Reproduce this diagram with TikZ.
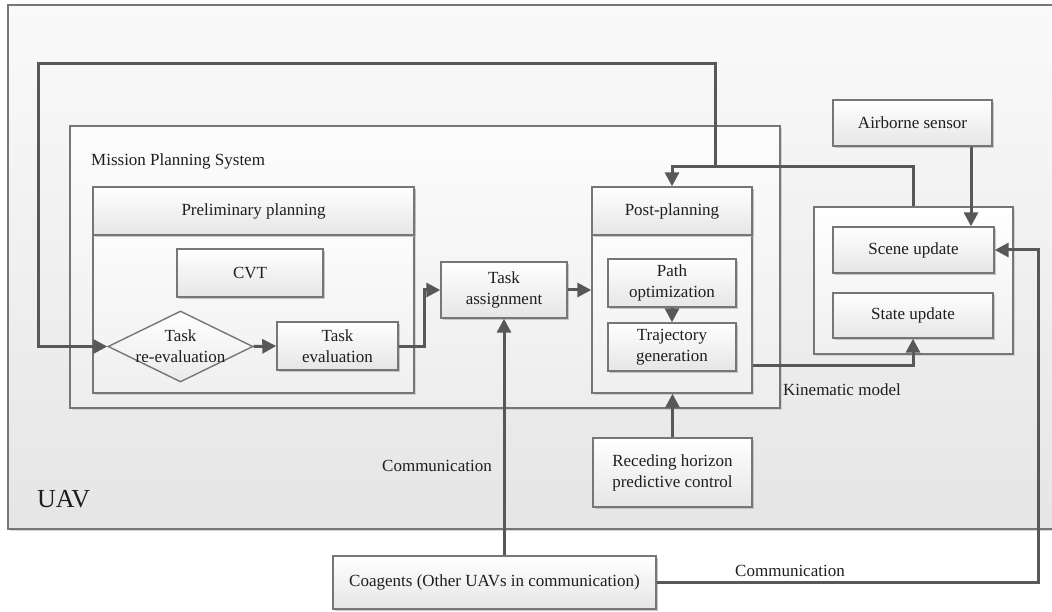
\documentclass[tikz,border=0pt]{standalone}
\usepackage{fontspec}
\setmainfont{Liberation Serif}
\usetikzlibrary{arrows.meta,shapes.geometric,shadows,calc}
\definecolor{linec}{HTML}{585858}
\definecolor{borderc}{HTML}{767676}
\definecolor{textc}{HTML}{1E1E1E}
\begin{document}
\begin{tikzpicture}[x=1pt,y=-1pt,
  every node/.style={font=\fontsize{17}{21}\selectfont, text=textc},
  place/.style n args={4}{minimum width={(#3-#1)*1pt}, minimum height={(#4-#2)*1pt},
    at={({(#1+#3)/2},{(#2+#4)/2})}},
  box/.style={draw=borderc, line width=1.4pt, rectangle, inner sep=0pt, align=center,
    top color=white, bottom color=black!10,
    drop shadow={shadow xshift=1.6pt, shadow yshift=-1.6pt, fill=black!30, opacity=0.7}},
  container/.style={draw=borderc, line width=1.4pt, rectangle, inner sep=0pt,
    top color=white, bottom color=black!6,
    drop shadow={shadow xshift=1.6pt, shadow yshift=-1.6pt, fill=black!25, opacity=0.6}},
  arr/.style={draw=linec, line width=3pt, -{Triangle[length=14pt,width=14pt]}},
  lbl/.style={anchor=base west, inner sep=0pt}
]
\clip (0,0) rectangle (1052,612);
\fill[white] (0,0) rectangle (1052,612);

% UAV frame
\node[container, line width=1.8pt, top color=black!2, bottom color=black!10, place={8}{5}{1080}{529}] (uav) {};
\node[anchor=west, inner sep=0pt, font=\fontsize{26}{30}\selectfont] (uavlabel) at (37,499) {UAV};

% Mission planning system
\node[container, top color=black!1, bottom color=black!7, place={70}{126}{780}{408}] (mps) {};
\node[lbl] (mpslabel) at (91,166) {Mission Planning System};

% Preliminary planning
\node[container, place={93}{187}{414}{393}] (prelim) {};
\node[box, place={93}{187}{414}{235}] (prelimhead) {Preliminary planning};
\node[box, place={177}{249}{323}{297}] (cvt) {CVT};
\node[diamond, draw=borderc, line width=1.4pt, inner sep=0pt, minimum width=145pt, minimum height=71pt,
  top color=white, bottom color=black!8] (reeval) at (180.5,346.5) {};
\node[align=center, inner sep=0pt] (reevaltext) at (reeval.center) {Task\\re-evaluation};
\node[box, place={277}{322}{398}{370}] (taskeval) {Task\\evaluation};

% Task assignment
\node[box, place={441}{262}{567}{318}] (taskassign) {Task\\assignment};

% Post planning
\node[container, place={592}{187}{752}{393}] (post) {};
\node[box, place={592}{187}{752}{235}] (posthead) {Post-planning};
\node[box, place={608}{259}{736}{307}] (pathopt) {Path\\optimization};
\node[box, place={608}{323}{736}{371}] (trajgen) {Trajectory\\generation};

% Right side
\node[box, place={833}{100}{992}{146}] (airborne) {Airborne sensor};
\node[container, place={814}{207}{1013}{354}] (kin) {};
\node[box, place={833}{227}{994}{273}] (scene) {Scene update};
\node[box, place={833}{293}{993}{338}] (state) {State update};
\node[lbl] (kinlabel) at (783,395) {Kinematic model};

% Bottom
\node[box, place={593}{438}{752}{507}] (receding) {Receding horizon\\predictive control};
\node[box, place={333}{556}{656}{609}] (coagents) {Coagents (Other UAVs in communication)};
\node[lbl] (comm1) at (382,471) {Communication};
\node[lbl] (comm2) at (735,576) {Communication};

% Connectors
\coordinate (jn) at (715,167);
\coordinate (fbtop) at (715,64);
\coordinate (fbleft) at (38,64);
\draw[arr] (kin.north) |- (jn) -| (posthead.north);
\draw[arr] (jn) -- (fbtop) -- (fbleft) |- (reeval.west);
\draw[arr] (reeval.east) -- (taskeval.west);
\draw[arr] (taskeval.east) -- ++(26,0) |- (taskassign.west);
\draw[arr] (taskassign.east) -- (post.west);
\draw[arr] (pathopt.south) -- (trajgen.north);
\draw[arr] ([yshift=-18pt]trajgen.east -| post.east) -| (state.south);
\draw[arr] ([xshift=58.5pt]airborne.south) -- ([xshift=58.5pt]airborne.south |- scene.north);
\draw[arr] (receding.north) -- (receding.north |- post.south);
\draw[arr] (taskassign.south |- coagents.north) -- (taskassign.south);
\draw[arr] (coagents.east) -| ([xshift=44pt]scene.east) -- (scene.east);
\end{tikzpicture}
\end{document}
